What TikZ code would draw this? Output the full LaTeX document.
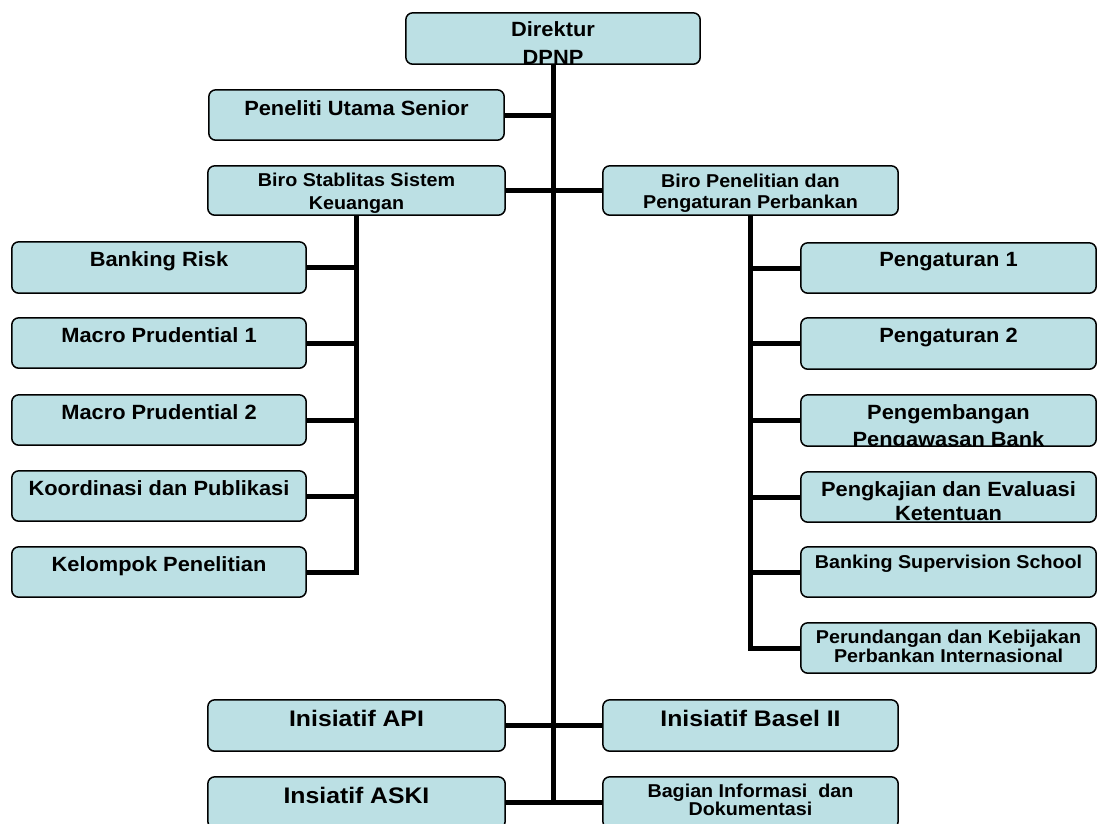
\documentclass[tikz,border=0pt]{standalone}
\usepackage{fontspec}
\setmainfont{Liberation Sans}[FakeStretch=1.06]
\newfontfamily\wideI{Liberation Sans}[FakeStretch=1.1]
\definecolor{boxfill}{RGB}{188,224,228}
\tikzset{
  conn/.style={line width=5pt, black},
  boxbg/.style={rectangle, fill=boxfill, rounded corners=7pt, inner sep=0pt},
  border/.style={draw=black, line width=1.5pt, rounded corners=7pt},
  lbl/.style={anchor=base, inner sep=0pt, font=\bfseries\fontsize{20.6}{23}\selectfont},
  slbl/.style={anchor=base, inner sep=0pt, font=\bfseries\fontsize{18.6}{21}\selectfont},
  ilbl/.style={anchor=base, inner sep=0pt, font=\wideI\bfseries\fontsize{22.5}{25}\selectfont},
}
\newcommand\obox[5]{%
  \node[boxbg, minimum width={(#4-#2)*1pt}, minimum height={(#5-#3)*1pt}] (#1) at ({(#2+#4)/2},{(#3+#5)/2}) {};}
\newcommand\clipin[2]{%
  \begin{scope}
    \clip[rounded corners=7pt] (#1.north west) rectangle (#1.south east);
    #2
  \end{scope}
  \draw[border] (#1.north west) rectangle (#1.south east);}
\begin{document}
\begin{tikzpicture}[x=1pt,y=-1pt]
\fill[white] (0,0) rectangle (1098,823);
\useasboundingbox (0,0) rectangle (1098,823);

% boxes
\obox{dir}{406}{13}{700}{64}
\obox{pus}{209}{90}{504}{140}
\obox{bss}{208}{166}{505}{215}
\obox{bpp}{603}{166}{898}{215}
\obox{br}{12}{242}{306}{293}
\obox{mp1}{12}{318}{306}{368}
\obox{mp2}{12}{395}{306}{445}
\obox{kp}{12}{471}{306}{521}
\obox{kel}{12}{547}{306}{597}
\obox{p1}{801}{243}{1096}{293}
\obox{p2}{801}{318}{1096}{369}
\obox{ppb}{801}{395}{1096}{446}
\obox{pek}{801}{472}{1096}{522}
\obox{bsc}{801}{547}{1096}{597}
\obox{per}{801}{623}{1096}{673}
\obox{api}{208}{700}{505}{751}
\obox{basel}{603}{700}{898}{751}
\obox{aski}{208}{777}{505}{828}
\obox{bag}{603}{777}{898}{828}

% connectors
\draw[conn] (dir.south) |- (aski.east);
\draw[conn] (bag.west) -- (bag.west -| dir.south);
\draw[conn] (pus.east) -- (pus.east -| dir.south);
\draw[conn] (bss.east) -- (bpp.west);
\draw[conn] (api.east) -- (basel.west);
\draw[conn] (bss.south) |- (kel.east);
\foreach \b in {br,mp1,mp2,kp} \draw[conn] (\b.east) -- (\b.east -| bss.south);
\draw[conn] (bpp.south) |- (per.west);
\foreach \b in {p1,p2,ppb,pek,bsc} \draw[conn] (\b.west) -- (\b.west -| bpp.south);

% redraw box fills over connector ends
\foreach \b in {dir,pus,bss,bpp,br,mp1,mp2,kp,kel,p1,p2,ppb,pek,bsc,per,api,basel,aski,bag}
  \fill[boxfill, rounded corners=7pt] (\b.north west) rectangle (\b.south east);

% texts
\clipin{dir}{\node[lbl] (dir-1) at ([yshift=-24pt]dir.north) {Direktur};
  \node[lbl] (dir-2) at ([yshift=-52pt]dir.north) {DPNP};}
\clipin{pus}{\node[lbl] (pus-1) at ([yshift=-26pt]pus.north) {Peneliti Utama Senior};}
\clipin{bss}{\node[slbl] (bss-1) at ([yshift=-21pt]bss.north) {Biro Stablitas Sistem};
  \node[slbl] (bss-2) at ([yshift=-44pt]bss.north) {Keuangan};}
\clipin{bpp}{\node[slbl] (bpp-1) at ([yshift=-22pt]bpp.north) {Biro Penelitian dan};
  \node[slbl] (bpp-2) at ([yshift=-43pt]bpp.north) {Pengaturan Perbankan};}
\clipin{br}{\node[lbl] (br-1) at ([yshift=-25pt]br.north) {Banking Risk};}
\clipin{mp1}{\node[lbl] (mp1-1) at ([yshift=-25pt]mp1.north) {Macro Prudential 1};}
\clipin{mp2}{\node[lbl] (mp2-1) at ([yshift=-25pt]mp2.north) {Macro Prudential 2};}
\clipin{kp}{\node[lbl] (kp-1) at ([yshift=-25pt]kp.north) {Koordinasi dan Publikasi};}
\clipin{kel}{\node[lbl] (kel-1) at ([yshift=-25pt]kel.north) {Kelompok Penelitian};}
\clipin{p1}{\node[lbl] (p1-1) at ([yshift=-24pt]p1.north) {Pengaturan 1};}
\clipin{p2}{\node[lbl] (p2-1) at ([yshift=-25pt]p2.north) {Pengaturan 2};}
\clipin{ppb}{\node[lbl] (ppb-1) at ([yshift=-25pt]ppb.north) {Pengembangan};
  \node[lbl] (ppb-2) at ([yshift=-52pt]ppb.north) {Pengawasan Bank};}
\clipin{pek}{\node[lbl] (pek-1) at ([yshift=-25pt]pek.north) {Pengkajian dan Evaluasi};
  \node[lbl] (pek-2) at ([yshift=-49pt]pek.north) {Ketentuan};}
\clipin{bsc}{\node[slbl] (bsc-1) at ([yshift=-22pt]bsc.north) {Banking Supervision School};}
\clipin{per}{\node[slbl] (per-1) at ([yshift=-21pt]per.north) {Perundangan dan Kebijakan};
  \node[slbl] (per-2) at ([yshift=-40pt]per.north) {Perbankan Internasional};}
\clipin{api}{\node[ilbl] (api-1) at ([yshift=-27pt]api.north) {Inisiatif API};}
\clipin{basel}{\node[ilbl] (basel-1) at ([yshift=-27pt]basel.north) {Inisiatif Basel II};}
\clipin{aski}{\node[ilbl] (aski-1) at ([yshift=-27pt]aski.north) {Insiatif ASKI};}
\clipin{bag}{\node[slbl] (bag-1) at ([yshift=-21pt]bag.north) {Bagian Informasi\ \ dan};
  \node[slbl] (bag-2) at ([yshift=-39pt]bag.north) {Dokumentasi};}
\end{tikzpicture}
\end{document}
